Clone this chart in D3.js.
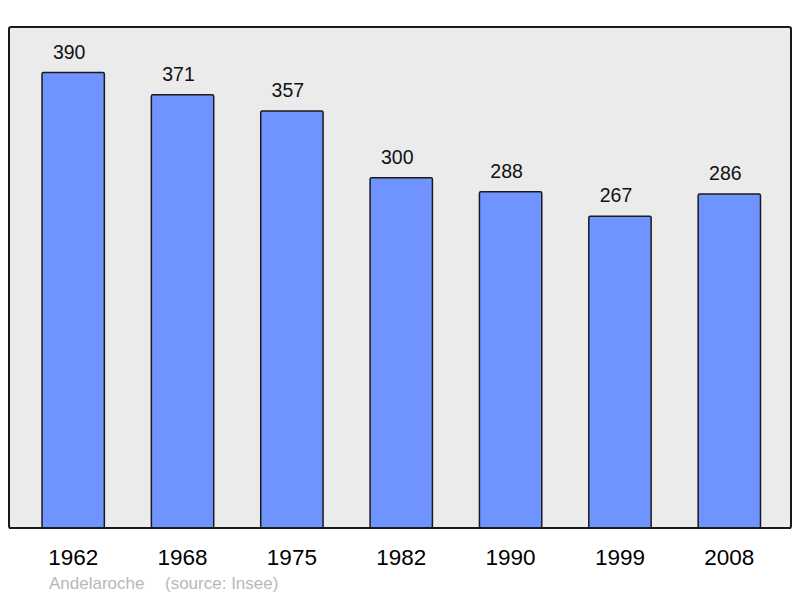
<!DOCTYPE html>
<html lang="en">
<head>
<meta charset="UTF-8">
<title>Andelaroche population</title>
<script src="https://d3js.org/d3.v7.min.js"></script>
<style>
    body { margin: 0; background: #fff; }
    svg { display: block; font-family: "Liberation Sans", Arial, sans-serif; }
</style>
</head>
<body>
<div id="chart"></div>
<script>
// Population data (source: Insee)
const years = ["1962", "1968", "1975", "1982", "1990", "1999", "2008"];
const population = [390, 371, 357, 300, 288, 267, 286];
const placeName = "Andelaroche";
const sourceText = "(source: Insee)";

const width = 800, height = 598;
const panel = {left: 9, top: 27, right: 791, bottom: 528};

const svg = d3.select("#chart").append("svg")
    .attr("width", width)
    .attr("height", height);

// Background panel
svg.append("rect")
    .attr("x", panel.left)
    .attr("y", panel.top)
    .attr("width", panel.right - panel.left)
    .attr("height", panel.bottom - panel.top)
    .attr("rx", 2)
    .attr("fill", "#ebebeb")
    .attr("stroke", "#1a1a1a")
    .attr("stroke-width", 2);

// Scales
const x = d3.scaleBand()
    .domain(years)
    .range([18.5, 784])
    .paddingInner(0.43)
    .paddingOuter(0.215);

const y = d3.scaleLinear()
    .domain([0, 429])
    .range([panel.bottom, panel.top]);

// Bars
svg.selectAll(".bar")
    .data(population)
    .enter()
    .append("rect")
    .attr("class", "bar")
    .attr("x", (d, i) => x(years[i]))
    .attr("y", d => y(d))
    .attr("width", x.bandwidth())
    .attr("height", d => y(0) - y(d))
    .attr("rx", 1.5)
    .attr("fill", "#7094ff")
    .attr("stroke", "#1a1a1a")
    .attr("stroke-width", 1.5);

// Value labels (sit a little left of the bar centre, as in the original)
svg.selectAll(".value")
    .data(population)
    .enter()
    .append("text")
    .attr("class", "value")
    .attr("x", (d, i) => x(years[i]) + x.bandwidth() / 2 - 4)
    .attr("y", d => y(d) - 14)
    .attr("text-anchor", "middle")
    .style("font-size", "19.5px")
    .attr("fill", "#111")
    .text(d => d);

// Redraw panel bottom edge over bars
svg.append("line")
    .attr("x1", panel.left)
    .attr("x2", panel.right)
    .attr("y1", panel.bottom)
    .attr("y2", panel.bottom)
    .attr("stroke", "#1a1a1a")
    .attr("stroke-width", 2);

// Year labels
svg.selectAll(".year")
    .data(years)
    .enter()
    .append("text")
    .attr("class", "year")
    .attr("x", d => x(d) + x.bandwidth() / 2)
    .attr("y", 565)
    .attr("text-anchor", "middle")
    .style("font-size", "22.5px")
    .attr("fill", "#000")
    .text(d => d);

// Footer
const footer = svg.append("g").style("font-size", "17px").attr("fill", "#b8b8b8");
footer.append("text").attr("x", 49).attr("y", 589).text(placeName);
footer.append("text").attr("x", 165).attr("y", 589).text(sourceText);
</script>
</body>
</html>
